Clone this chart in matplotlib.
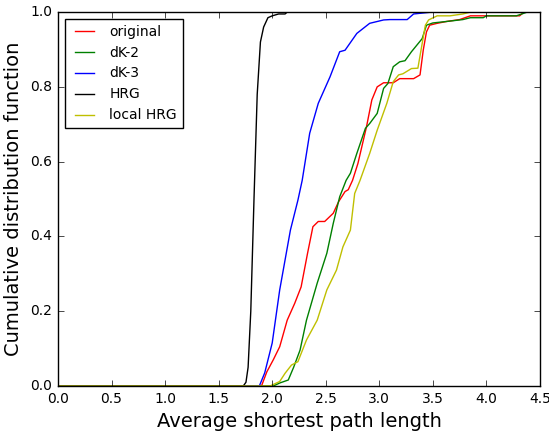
import matplotlib
matplotlib.use("Agg")
import matplotlib.pyplot as plt

plt.style.use("classic")

orig_x = [0, 1.90, 1.95, 2.01, 2.07, 2.14, 2.21, 2.27, 2.33, 2.38, 2.43, 2.49, 2.57, 2.62, 2.68, 2.71, 2.75,
          2.80, 2.88, 2.93, 2.98, 3.04, 3.13, 3.19, 3.32, 3.38, 3.41, 3.44, 3.47, 3.54, 3.63, 3.75, 3.85, 4.31, 4.35]
orig_y = [0, 0, 0.038, 0.07, 0.105, 0.176, 0.221, 0.265, 0.355, 0.426, 0.44, 0.44, 0.462, 0.493, 0.52, 0.525, 0.55,
          0.595, 0.693, 0.765, 0.80, 0.811, 0.811, 0.822, 0.822, 0.832, 0.898, 0.947, 0.965, 0.97, 0.975, 0.98, 0.99, 0.99, 1.0]

dk2_x = [0, 2.01, 2.07, 2.15, 2.20, 2.26, 2.32, 2.42, 2.51, 2.57, 2.63, 2.69, 2.73, 2.79, 2.87, 2.91, 2.98,
         3.04, 3.08, 3.13, 3.19, 3.24, 3.30, 3.40, 3.44, 3.50, 3.63, 3.69, 3.78, 3.85, 3.97, 4.00, 4.28, 4.38]
dk2_y = [0, 0, 0.008, 0.016, 0.05, 0.096, 0.176, 0.275, 0.355, 0.435, 0.506, 0.55, 0.569, 0.622, 0.689, 0.702, 0.729,
         0.796, 0.809, 0.854, 0.867, 0.87, 0.894, 0.929, 0.965, 0.971, 0.975, 0.977, 0.98, 0.985, 0.985, 0.99, 0.99, 1.0]

dk3_x = [0, 1.88, 1.93, 2.00, 2.07, 2.17, 2.24, 2.28, 2.35, 2.43, 2.54, 2.63, 2.68, 2.79, 2.91, 3.04, 3.10,
         3.26, 3.32, 3.49, 4.5]
dk3_y = [0, 0, 0.035, 0.115, 0.257, 0.417, 0.497, 0.55, 0.676, 0.756, 0.827, 0.894, 0.898, 0.943, 0.97, 0.979, 0.98,
         0.98, 0.995, 1.0, 1.0]

hrg_x = [0, 1.73, 1.755, 1.775, 1.80, 1.83, 1.86, 1.89, 1.92, 1.96, 2.00, 2.06, 2.12, 2.14, 4.5]
hrg_y = [0, 0, 0.01, 0.05, 0.2, 0.5, 0.78, 0.92, 0.96, 0.985, 0.99, 0.995, 0.995, 1.0, 1.0]

lhrg_x = [0, 1.98, 2.07, 2.12, 2.18, 2.24, 2.32, 2.42, 2.51, 2.60, 2.66, 2.73, 2.77, 2.82, 2.91, 2.98, 3.07,
          3.13, 3.18, 3.22, 3.30, 3.36, 3.40, 3.43, 3.46, 3.54, 3.66, 3.78, 3.85, 4.4]
lhrg_y = [0, 0, 0.012, 0.034, 0.056, 0.065, 0.123, 0.176, 0.257, 0.31, 0.372, 0.417, 0.515, 0.55, 0.622, 0.684, 0.756,
          0.814, 0.832, 0.835, 0.849, 0.85, 0.916, 0.965, 0.979, 0.99, 0.99, 0.995, 1.0, 1.0]

fig = plt.figure(figsize=(5.49, 4.32), dpi=100)
ax = fig.add_axes([0.1056, 0.1065, 0.878, 0.8655])

ax.plot(orig_x, orig_y, color="r", lw=1.0, label="original")
ax.plot(dk2_x, dk2_y, color="g", lw=1.0, label="dK-2")
ax.plot(dk3_x, dk3_y, color="b", lw=1.0, label="dK-3")
ax.plot(hrg_x, hrg_y, color="k", lw=1.0, label="HRG")
ax.plot(lhrg_x, lhrg_y, color="y", lw=1.0, label="local HRG")

ax.set_xlim(0, 4.5)
ax.set_ylim(0, 1.0)
ax.set_xticks([0, 0.5, 1.0, 1.5, 2.0, 2.5, 3.0, 3.5, 4.0, 4.5])
ax.set_yticks([0, 0.2, 0.4, 0.6, 0.8, 1.0])
ax.tick_params(labelsize=10)
ax.set_xlabel("Average shortest path length", fontsize=14)
ax.set_ylabel("Cumulative distribution function", fontsize=14)
ax.legend(loc="upper left", fontsize=10)

fig.savefig("out.png", dpi=100)
